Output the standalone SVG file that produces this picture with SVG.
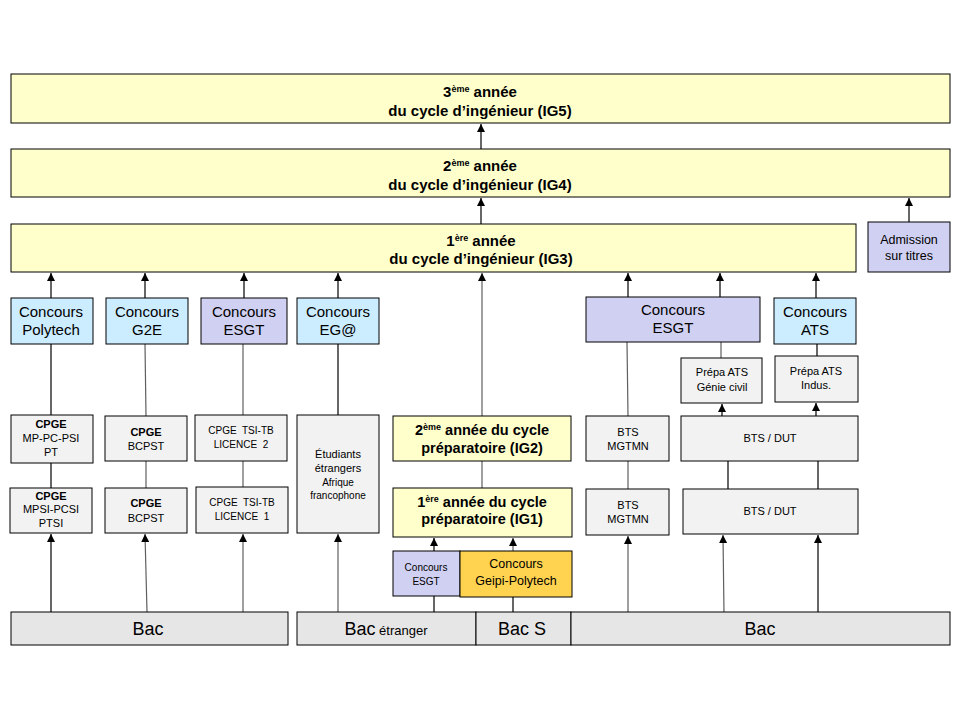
<svg xmlns="http://www.w3.org/2000/svg" width="960" height="720" viewBox="0 0 960 720">
<style>
text{font-family:"Liberation Sans",Arial,sans-serif;fill:#000;text-anchor:middle}
.box{stroke:#000;stroke-width:1}
.y{fill:#FFFFCC}
.b{fill:#CCECFF}
.l{fill:#D0D0F2}
.g{fill:#F2F2F2}
.bar{fill:#E6E6E6}
.o{fill:#FFD34F}
.t{font-size:15px;font-weight:bold}
.c{font-size:15px}
.s{font-size:11px}
.xs{font-size:10px;white-space:pre}
.bd{font-weight:bold}
.sup{font-size:9px}
.big{font-size:18px}
.ln{stroke:#000;stroke-width:1.2;fill:none}
.lg{stroke:#5f5f5f;stroke-width:1.2;fill:none}
</style>
<defs>
<marker id="ah" viewBox="0 0 8 8" refX="8" refY="4" markerWidth="8" markerHeight="8" markerUnits="userSpaceOnUse" orient="auto">
<path d="M0,0 L8,4 L0,8 Z" fill="#000"/>
</marker>
</defs>
<rect width="960" height="720" fill="#fff"/>

<g id="connectors">
<line class="ln" x1="481" y1="149" x2="481" y2="124" marker-end="url(#ah)"/>
<line class="ln" x1="481" y1="224" x2="481" y2="198" marker-end="url(#ah)"/>
<line class="ln" x1="909" y1="222" x2="909" y2="198" marker-end="url(#ah)"/>
<line class="ln" x1="51" y1="298" x2="51" y2="273" marker-end="url(#ah)"/>
<line class="ln" x1="145" y1="298" x2="145" y2="273" marker-end="url(#ah)"/>
<line class="ln" x1="244" y1="298" x2="244" y2="273" marker-end="url(#ah)"/>
<line class="ln" x1="338" y1="298" x2="338" y2="273" marker-end="url(#ah)"/>
<line class="lg" x1="482" y1="416" x2="482" y2="273" marker-end="url(#ah)"/>
<line class="ln" x1="628" y1="297" x2="628" y2="273" marker-end="url(#ah)"/>
<line class="ln" x1="720" y1="297" x2="720" y2="273" marker-end="url(#ah)"/>
<line class="ln" x1="816" y1="298" x2="816" y2="273" marker-end="url(#ah)"/>
<line class="ln" x1="51" y1="344" x2="51" y2="415"/>
<line class="lg" x1="145" y1="344" x2="146" y2="416"/>
<line class="lg" x1="243" y1="344" x2="243" y2="415"/>
<line class="ln" x1="338" y1="344" x2="338" y2="415"/>
<line class="lg" x1="627" y1="342" x2="628" y2="416"/>
<line class="lg" x1="721" y1="342" x2="721" y2="358"/>
<line class="ln" x1="817" y1="344" x2="817" y2="356"/>
<line class="ln" x1="722" y1="416" x2="722" y2="404" marker-end="url(#ah)"/>
<line class="ln" x1="816" y1="416" x2="816" y2="403" marker-end="url(#ah)"/>
<line class="ln" x1="51" y1="463" x2="51" y2="488"/>
<line class="lg" x1="146" y1="461" x2="146" y2="488"/>
<line class="lg" x1="243" y1="461" x2="243" y2="487"/>
<line class="lg" x1="482" y1="461" x2="482" y2="488"/>
<line class="lg" x1="628" y1="461" x2="628" y2="489"/>
<line class="ln" x1="728" y1="461" x2="728" y2="489"/>
<line class="ln" x1="818" y1="461" x2="818" y2="489"/>
<line class="ln" x1="51" y1="612" x2="51" y2="534" marker-end="url(#ah)"/>
<line class="lg" x1="147" y1="612" x2="145" y2="534" marker-end="url(#ah)"/>
<line class="lg" x1="243" y1="612" x2="243" y2="534" marker-end="url(#ah)"/>
<line class="lg" x1="338" y1="612" x2="338" y2="534" marker-end="url(#ah)"/>
<line class="ln" x1="434" y1="551" x2="434" y2="538" marker-end="url(#ah)"/>
<line class="lg" x1="513" y1="551" x2="513" y2="538" marker-end="url(#ah)"/>
<line class="ln" x1="434" y1="596" x2="434" y2="612"/>
<line class="ln" x1="513" y1="597" x2="513" y2="612"/>
<line class="lg" x1="628" y1="612" x2="628" y2="536" marker-end="url(#ah)"/>
<line class="lg" x1="724" y1="614" x2="723" y2="535" marker-end="url(#ah)"/>
<line class="ln" x1="818" y1="612" x2="818" y2="535" marker-end="url(#ah)"/>
</g>

<g id="ig5">
<rect class="box y" x="11" y="74" width="939" height="49"/>
<text class="t" x="480" y="97">3<tspan class="sup" dy="-5">ème</tspan><tspan dy="5"> année</tspan></text>
<text class="t" x="480" y="116">du cycle d’ingénieur (IG5)</text>
</g>
<g id="ig4">
<rect class="box y" x="11" y="149" width="939" height="48"/>
<text class="t" x="480" y="171">2<tspan class="sup" dy="-5">ème</tspan><tspan dy="5"> année</tspan></text>
<text class="t" x="480" y="190">du cycle d’ingénieur (IG4)</text>
</g>
<g id="ig3">
<rect class="box y" x="11" y="224" width="845" height="48"/>
<text class="t" x="481" y="246">1<tspan class="sup" dy="-5">ère</tspan><tspan dy="5"> année</tspan></text>
<text class="t" x="481" y="264">du cycle d’ingénieur (IG3)</text>
</g>
<g id="admission">
<rect class="box l" x="868" y="222" width="82" height="50"/>
<text x="909" y="244" style="font-size:12.5px">Admission</text>
<text x="909" y="260" style="font-size:12.5px">sur titres</text>
</g>

<g id="concours-polytech">
<rect class="box b" x="11" y="298" width="82" height="46"/>
<text class="c" x="51" y="317">Concours</text>
<text class="c" x="51" y="335">Polytech</text>
</g>
<g id="concours-g2e">
<rect class="box b" x="106" y="298" width="82" height="46"/>
<text class="c" x="147" y="317">Concours</text>
<text class="c" x="147" y="335">G2E</text>
</g>
<g id="concours-esgt-1">
<rect class="box l" x="201" y="298" width="86" height="46"/>
<text class="c" x="244" y="317">Concours</text>
<text class="c" x="244" y="335">ESGT</text>
</g>
<g id="concours-ega">
<rect class="box b" x="297" y="298" width="82" height="46"/>
<text class="c" x="338" y="317">Concours</text>
<text class="c" x="338" y="335">EG@</text>
</g>
<g id="concours-esgt-2">
<rect class="box l" x="586" y="297" width="174" height="45"/>
<text class="c" x="673" y="315">Concours</text>
<text class="c" x="673" y="333">ESGT</text>
</g>
<g id="concours-ats">
<rect class="box b" x="774" y="298" width="82" height="46"/>
<text class="c" x="815" y="317">Concours</text>
<text class="c" x="815" y="335">ATS</text>
</g>

<g id="prepa-ats-gc">
<rect class="box g" x="681" y="358" width="81" height="45"/>
<text class="s" x="722" y="376">Prépa ATS</text>
<text class="s" x="722" y="391">Génie civil</text>
</g>
<g id="prepa-ats-indus">
<rect class="box g" x="775" y="356" width="83" height="46"/>
<text class="s" x="816" y="375">Prépa ATS</text>
<text class="s" x="816" y="389">Indus.</text>
</g>

<g id="cpge-mp">
<rect class="box g" x="11" y="415" width="82" height="48"/>
<text class="s bd" x="51" y="428">CPGE</text>
<text class="s" x="51" y="442">MP-PC-PSI</text>
<text class="s" x="51" y="456">PT</text>
</g>
<g id="cpge-bcpst-2">
<rect class="box g" x="105" y="416" width="82" height="45"/>
<text class="s bd" x="146" y="436">CPGE</text>
<text class="s" x="146" y="450">BCPST</text>
</g>
<g id="cpge-tsi-2">
<rect class="box g" x="195" y="415" width="92" height="46"/>
<text class="xs" x="241" y="434" xml:space="preserve">CPGE  TSI-TB</text>
<text class="xs" x="241" y="448" xml:space="preserve">LICENCE  2</text>
</g>
<g id="etudiants">
<rect class="box g" x="297" y="415" width="82" height="118"/>
<text class="s" x="338" y="458">Étudiants</text>
<text class="s" x="338" y="472">étrangers</text>
<text class="xs" x="338" y="486">Afrique</text>
<text class="xs" x="338" y="499">francophone</text>
</g>
<g id="ig2">
<rect class="box y" x="393" y="416" width="178" height="45"/>
<text class="c bd" x="482" y="435" style="font-size:14.5px">2<tspan class="sup" dy="-5">ème</tspan><tspan dy="5"> année du cycle</tspan></text>
<text class="c bd" x="482" y="453" style="font-size:14.5px">préparatoire (IG2)</text>
</g>
<g id="bts-mgtmn-2">
<rect class="box g" x="586" y="416" width="83" height="45"/>
<text class="s" x="628" y="436">BTS</text>
<text class="s" x="628" y="450">MGTMN</text>
</g>
<g id="bts-dut-2">
<rect class="box g" x="681" y="416" width="177" height="45"/>
<text class="s" x="770" y="442">BTS / DUT</text>
</g>

<g id="cpge-mpsi">
<rect class="box g" x="10" y="488" width="82" height="45"/>
<text class="s bd" x="51" y="500">CPGE</text>
<text class="s" x="51" y="513">MPSI-PCSI</text>
<text class="s" x="51" y="527">PTSI</text>
</g>
<g id="cpge-bcpst-1">
<rect class="box g" x="105" y="488" width="82" height="45"/>
<text class="s bd" x="146" y="507">CPGE</text>
<text class="s" x="146" y="522">BCPST</text>
</g>
<g id="cpge-tsi-1">
<rect class="box g" x="196" y="487" width="92" height="46"/>
<text class="xs" x="242" y="506" xml:space="preserve">CPGE  TSI-TB</text>
<text class="xs" x="242" y="520" xml:space="preserve">LICENCE  1</text>
</g>
<g id="ig1">
<rect class="box y" x="393" y="488" width="179" height="49"/>
<text class="c bd" x="482" y="507" style="font-size:14.5px">1<tspan class="sup" dy="-5">ère</tspan><tspan dy="5"> année du cycle</tspan></text>
<text class="c bd" x="482" y="524" style="font-size:14.5px">préparatoire (IG1)</text>
</g>
<g id="bts-mgtmn-1">
<rect class="box g" x="586" y="489" width="83" height="46"/>
<text class="s" x="628" y="509">BTS</text>
<text class="s" x="628" y="523">MGTMN</text>
</g>
<g id="bts-dut-1">
<rect class="box g" x="683" y="489" width="175" height="45"/>
<text class="s" x="770" y="515">BTS / DUT</text>
</g>

<g id="concours-esgt-3">
<rect class="box l" x="393" y="551" width="67" height="45"/>
<text class="xs" x="426" y="571">Concours</text>
<text class="xs" x="426" y="585">ESGT</text>
</g>
<g id="concours-geipi">
<rect class="box o" x="460" y="551" width="112" height="46"/>
<text x="516" y="568" style="font-size:12.5px">Concours</text>
<text x="516" y="585" style="font-size:12.5px">Geipi-Polytech</text>
</g>

<g id="bac-1">
<rect class="box bar" x="11" y="612" width="277" height="33"/>
<text class="big" x="148" y="635">Bac</text>
</g>
<g id="bac-etranger">
<rect class="box bar" x="297" y="612" width="179" height="33"/>
<text x="386" y="635"><tspan class="big">Bac</tspan><tspan style="font-size:13px"> étranger</tspan></text>
</g>
<g id="bac-s">
<rect class="box bar" x="476" y="612" width="95" height="33"/>
<text class="big" x="522" y="635">Bac S</text>
</g>
<g id="bac-2">
<rect class="box bar" x="571" y="612" width="379" height="33"/>
<text class="big" x="760" y="635">Bac</text>
</g>
</svg>
